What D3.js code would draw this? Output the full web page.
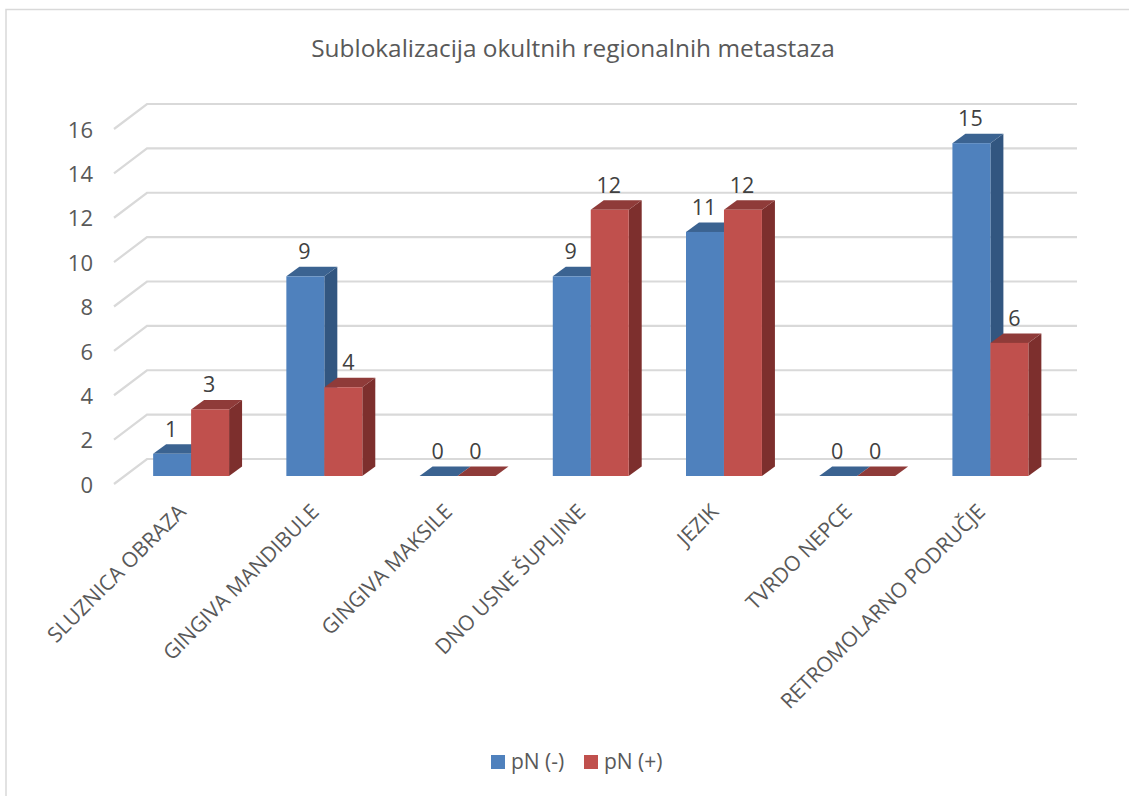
<!DOCTYPE html>
<html>
<head>
<meta charset="utf-8">
<script src="https://cdn.jsdelivr.net/npm/d3@7/dist/d3.min.js"></script>
<style>
  html, body { margin: 0; padding: 0; background: #fff; }
  svg { display: block; }
  text { font-family: "Open Sans", "Noto Sans", sans-serif; }
</style>
</head>
<body>
<div id="chart"></div>
<script>
const categories = ['SLUZNICA OBRAZA', 'GINGIVA MANDIBULE', 'GINGIVA MAKSILE', 'DNO USNE ŠUPLJINE', 'JEZIK', 'TVRDO NEPCE', 'RETROMOLARNO PODRUČJE'];
const negValues = [1, 9, 0, 9, 11, 0, 15];
const posValues = [3, 4, 0, 12, 12, 0, 6];
const seriesNames = ['pN (-)', 'pN (+)'];
const yTicks = [0, 2, 4, 6, 8, 10, 12, 14, 16];

const seriesColors = [
  { front: '#4f81bd', top: '#3b6391', side: '#325680' },
  { front: '#c0504d', top: '#8f3b39', side: '#7d2f2d' },
];
const textColor = '#595959';
const labelColor = '#404040';
const gridColor = '#d9d9d9';

const W = 1129, H = 796;
const depthX = 13, depthY = 9.5;

const svg = d3.select('#chart').append('svg').attr('width', W).attr('height', H);

// chart frame
svg.append('path')
  .attr('d', `M6,${H}V9.5H1129`)
  .attr('fill', 'none').attr('stroke', gridColor).attr('stroke-width', 1.5);

svg.append('text').attr('x', 573).attr('y', 57)
  .attr('text-anchor', 'middle').attr('fill', textColor)
  .attr('font-size', '24.4px')
  .text('Sublokalizacija okultnih regionalnih metastaza');

const x = d3.scaleBand().domain(categories).range([124.5, 1057]).paddingInner(0.43).paddingOuter(0.215);
const xs = d3.scaleBand().domain([0, 1]).range([0, x.bandwidth()]);
const y = d3.scaleLinear().domain([0, 16]).range([476, 121]);

// gridlines: wall + floor edge, offset from the bar plane
const grid = svg.append('g');
grid.selectAll('path').data(yTicks).join('path')
  .attr('d', d => `M114,${y(d) + 8}L147,${y(d) - 17}H1077`)
  .attr('fill', 'none').attr('stroke', gridColor).attr('stroke-width', 2.2);

// y axis labels
svg.append('g').selectAll('text').data(yTicks).join('text')
  .attr('x', 93).attr('y', d => y(d) + 9)
  .attr('dy', '0.35em').attr('text-anchor', 'end')
  .attr('fill', textColor).attr('font-size', '22px')
  .text(d => d);

const rows = [];
categories.forEach((c, i) => {
  rows.push({ c, s: 0, v: negValues[i], other: posValues[i] });
  rows.push({ c, s: 1, v: posValues[i], other: negValues[i] });
});
const bars = svg.append('g').selectAll('g').data(rows).join('g')
  .attr('transform', d => `translate(${x(d.c) + xs(d.s)},0)`);
const bw = xs.bandwidth();
bars.append('path') // side
  .attr('d', d => `M${bw},${y(d.v)}l${depthX},${-depthY}V${y(0) - depthY}l${-depthX},${depthY}Z`)
  .attr('fill', d => seriesColors[d.s].side);
bars.append('path') // top
  .attr('d', d => `M0,${y(d.v)}l${depthX},${-depthY}h${bw}l${-depthX},${depthY}Z`)
  .attr('fill', d => seriesColors[d.s].top);
bars.append('rect') // front
  .attr('y', d => y(d.v)).attr('width', bw).attr('height', d => y(0) - y(d.v))
  .attr('fill', d => seriesColors[d.s].front);

// value labels, red ones next to a taller blue bar get pushed right
svg.append('g').selectAll('text').data(rows).join('text')
  .attr('x', d => x(d.c) + xs(d.s) + bw / 2 + (d.s === 1 && d.other > d.v ? 5 : -1))
  .attr('y', d => y(d.v) - 17)
  .attr('text-anchor', 'middle').attr('fill', labelColor).attr('font-size', '21.5px')
  .text(d => d.v);

// rotated category labels
svg.append('g').selectAll('text').data(categories).join('text')
  .attr('text-anchor', 'end').attr('fill', textColor).attr('font-size', '21px')
  .attr('transform', d => `translate(${x(d) + x.bandwidth() / 2 - 4},513) rotate(-45)`)
  .text(d => d);

// legend
const legend = svg.append('g');
const legendX = [491, 584];
seriesNames.forEach((n, i) => {
  legend.append('rect').attr('x', legendX[i]).attr('y', 755).attr('width', 14).attr('height', 14)
    .attr('fill', seriesColors[i].front);
  legend.append('text').attr('x', legendX[i] + 20).attr('y', 762).attr('dy', '0.35em')
    .attr('fill', textColor).attr('font-size', '21px').text(n);
});
</script>
</body>
</html>
